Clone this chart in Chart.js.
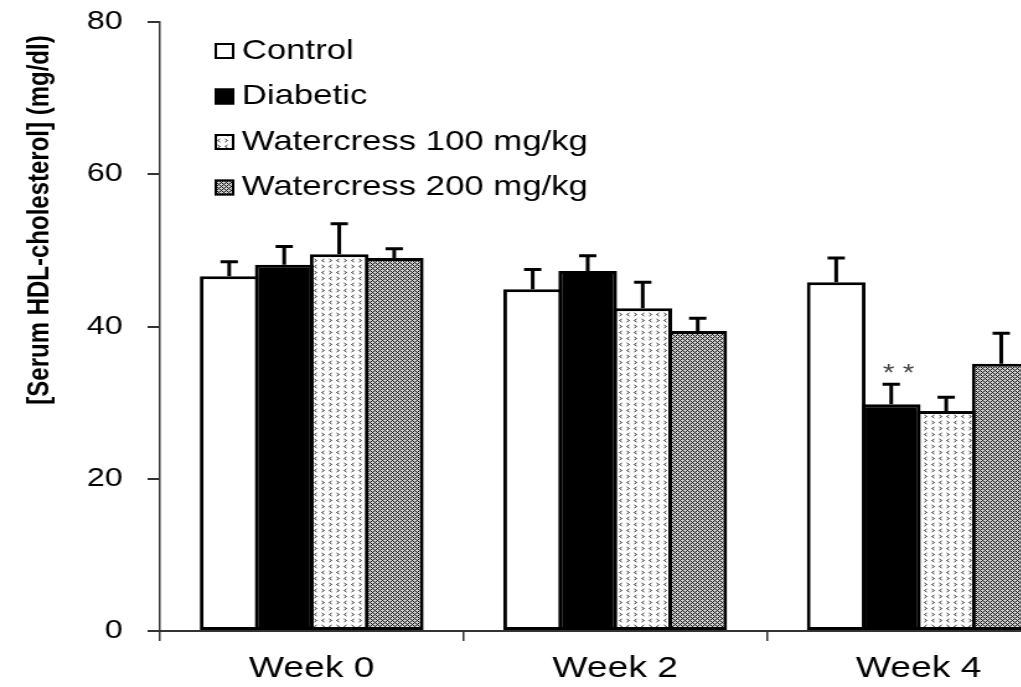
<!DOCTYPE html>
<html>
<head>
<meta charset="utf-8">
<script src="https://cdn.jsdelivr.net/npm/chart.js@4.4.1/dist/chart.umd.min.js"></script>
<style>
html, body { margin: 0; padding: 0; background: #fff; overflow: hidden; }
#wrap { width: 1021px; height: 687px; overflow: hidden; }
</style>
</head>
<body>
<!-- the figure is stretched sideways like the original: bitmap 871 wide, shown 1080 wide -->
<div id="wrap"><canvas id="hdlChart" width="871" height="687" style="width:1080px;height:687px;display:block"></canvas></div>
<script>
var weeks = ["Week 0", "Week 2", "Week 4"];
var groupNames = ["Control", "Diabetic", "Watercress 100 mg/kg", "Watercress 200 mg/kg"];

var controlMean = [46.6, 44.9, 45.8];
var controlErr = [1.9, 2.6, 3.2];
var diabeticMean = [48.1, 47.3, 29.8];
var diabeticErr = [2.4, 2.0, 2.6];
var w100Mean = [49.5, 42.4, 28.9];
var w100Err = [4.0, 3.4, 1.8];
var w200Mean = [49.0, 39.4, 35.1];
var w200Err = [1.2, 1.7, 4.0];

var diabeticMarks = ["", "", "**"];
var yTicks = [0, 20, 40, 60, 80];

var FONT = '"Liberation Sans", Arial, sans-serif';
var canvas = document.getElementById("hdlChart");
var ctx = canvas.getContext("2d");

function dotPattern() {
    var c = document.createElement("canvas");
    c.width = 12; c.height = 12;
    var g = c.getContext("2d");
    g.fillStyle = "#fff";
    g.fillRect(0, 0, 12, 12);
    g.strokeStyle = "#333";
    g.lineWidth = 1;
    function lt(x, y) { g.beginPath(); g.moveTo(x + 2, y); g.lineTo(x, y + 1.5); g.lineTo(x + 2, y + 3); g.stroke(); }
    function gt(x, y) { g.beginPath(); g.moveTo(x, y); g.lineTo(x + 2, y + 1.5); g.lineTo(x, y + 3); g.stroke(); }
    lt(1.5, 1); gt(7.5, 1);
    gt(1.5, 7); lt(7.5, 7);
    return ctx.createPattern(c, "repeat");
}

function meshPattern() {
    var c = document.createElement("canvas");
    c.width = 4; c.height = 4;
    var g = c.getContext("2d");
    g.fillStyle = "#d2d2d2";
    g.fillRect(0, 0, 4, 4);
    g.fillStyle = "#151515";
    [[0,0],[1,1],[2,2],[3,3],[1,3],[3,1]].forEach(function (p) { g.fillRect(p[0], p[1], 1, 1); });
    return ctx.createPattern(c, "repeat");
}

var errorBars = {
    id: "errorBars",
    afterDatasetsDraw: function (chart) {
        var c = chart.ctx, yScale = chart.scales.y;
        c.save();
        c.strokeStyle = "#000";
        c.lineWidth = 3;
        chart.data.datasets.forEach(function (ds, i) {
            chart.getDatasetMeta(i).data.forEach(function (bar, j) {
                var top = yScale.getPixelForValue(ds.data[j] + ds.errors[j]);
                c.beginPath();
                c.moveTo(bar.x, bar.y);
                c.lineTo(bar.x, top);
                c.moveTo(bar.x - 7, top);
                c.lineTo(bar.x + 7, top);
                c.stroke();
                if (ds.marks && ds.marks[j]) {
                    c.fillStyle = "#444";
                    c.font = "24px " + FONT;
                    c.textAlign = "center";
                    c.textBaseline = "alphabetic";
                    c.fillText(ds.marks[j].split("").join(" "), bar.x + 6, top - 3);
                }
            });
        });
        c.restore();
    }
};

var boxLegend = {
    id: "boxLegend",
    afterDraw: function (chart) {
        var c = chart.ctx, area = chart.chartArea;
        var x = area.left + 44, y = area.top + 29;
        c.save();
        c.font = "28px " + FONT;
        c.textBaseline = "middle";
        c.textAlign = "left";
        chart.data.datasets.forEach(function (ds, i) {
            var cy = y + i * 45.5;
            c.fillStyle = ds.backgroundColor;
            c.fillRect(x, cy - 8, 16, 16);
            c.lineWidth = 2;
            c.strokeStyle = "#000";
            c.strokeRect(x + 1, cy - 7, 14, 14);
            c.fillStyle = "#000";
            c.fillText(ds.label, x + 22, cy);
        });
        c.restore();
    }
};

function barSet(label, values, errs, fill) {
    return {
        label: label,
        data: values,
        errors: errs,
        backgroundColor: fill,
        borderColor: "#000",
        borderWidth: 3,
        borderSkipped: false,
        categoryPercentage: 0.725,
        barPercentage: 1.068
    };
}

var sets = [
    barSet(groupNames[0], controlMean, controlErr, "#fff"),
    barSet(groupNames[1], diabeticMean, diabeticErr, "#000"),
    barSet(groupNames[2], w100Mean, w100Err, dotPattern()),
    barSet(groupNames[3], w200Mean, w200Err, meshPattern())
];
sets[1].marks = diabeticMarks;

var myChart = new Chart(ctx, {
    type: "bar",
    data: { labels: weeks, datasets: sets },
    plugins: [errorBars, boxLegend],
    options: {
        responsive: false,
        devicePixelRatio: 1,
        animation: false,
        layout: { padding: { top: 22, right: 7.7, bottom: 0, left: 0 } },
        plugins: { legend: { display: false }, tooltip: { enabled: false } },
        scales: {
            x: {
                afterFit: function (scale) { scale.height = 56; },
                grid: { drawOnChartArea: false, tickLength: 10, color: "#333", lineWidth: 1.5 },
                border: { display: true, color: "#333", width: 2 },
                ticks: { font: { family: FONT, size: 30 }, color: "#000", padding: 10, maxRotation: 0, autoSkip: false }
            },
            y: {
                min: yTicks[0],
                max: yTicks[yTicks.length - 1],
                afterBuildTicks: function (scale) {
                    scale.ticks = yTicks.map(function (v) { return { value: v }; });
                },
                afterFit: function (scale) {
                    scale.width = 129;
                    scale.paddingTop = 0;
                    scale.paddingBottom = 0;
                },
                grid: { drawOnChartArea: false, tickLength: 10, color: "#333", lineWidth: 2 },
                border: { display: true, color: "#333", width: 1.5 },
                ticks: { font: { family: FONT, size: 26 }, color: "#000", padding: 20 },
                title: {
                    display: true,
                    text: "[Serum HDL-cholesterol] (mg/dl)  ",
                    align: "end",
                    color: "#000",
                    font: { family: FONT, size: 24, weight: "bold" },
                    padding: { top: 18, bottom: 0 }
                }
            }
        }
    }
});
</script>
</body>
</html>
